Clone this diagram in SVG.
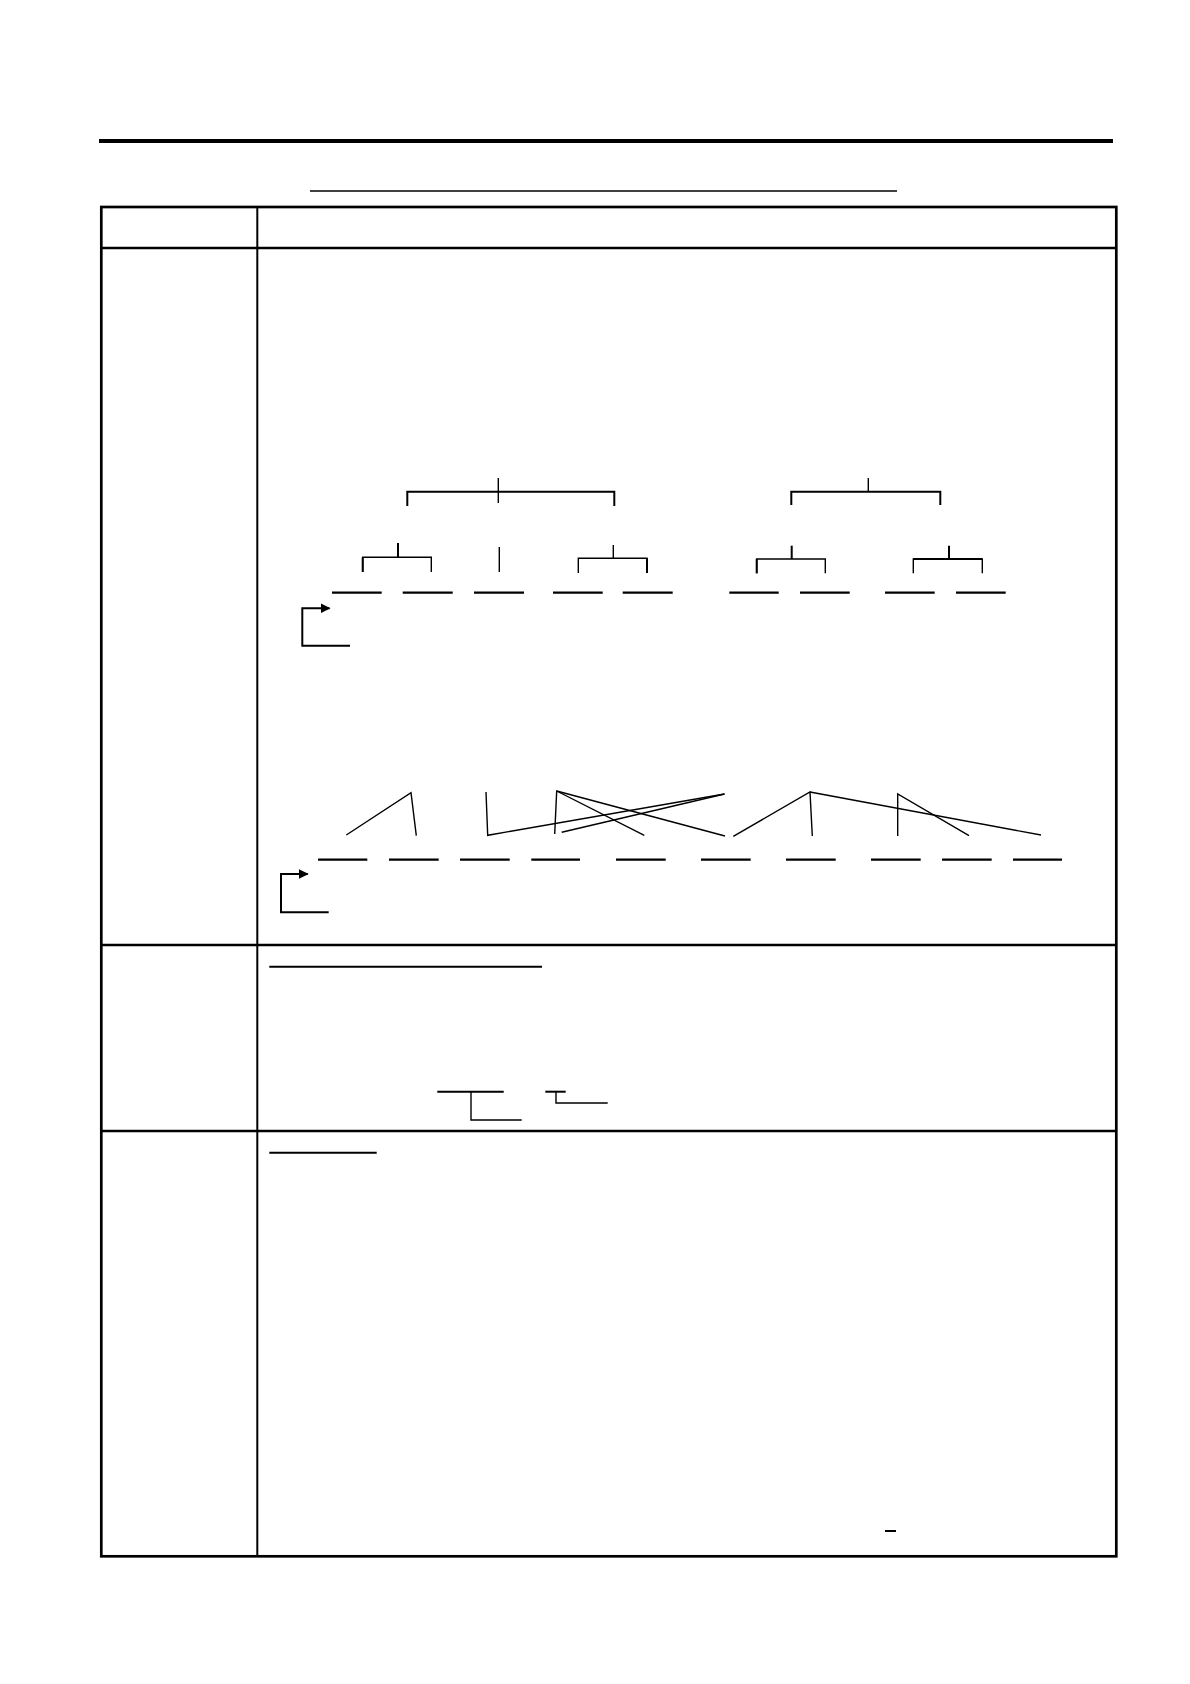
<svg xmlns="http://www.w3.org/2000/svg" width="1190" height="1684" viewBox="0 0 1190 1684">
<defs>
<style>
.thin{stroke:#000;stroke-width:1.4;fill:none}
.med{stroke:#000;stroke-width:2;fill:none}
.blank{stroke:#000;stroke-width:2.2;fill:none}
.frame{stroke:#000;stroke-width:2.7;fill:none}
</style>
<marker id="ah" markerWidth="10" markerHeight="10" refX="9" refY="5" orient="auto" markerUnits="userSpaceOnUse">
<path d="M0,0 L10,5 L0,10 Z" fill="#000"/>
</marker>
</defs>
<rect width="1190" height="1684" fill="#fff"/>
<g id="page-frame">
<rect x="99" y="139" width="1014" height="4" fill="#000"/>
<line class="thin" x1="310" y1="191" x2="897" y2="191"/>
<rect class="frame" x="101.3" y="207" width="1015" height="1349.3"/>
<line class="frame" x1="101.3" y1="248" x2="1116.3" y2="248"/>
<line class="frame" x1="101.3" y1="945" x2="1116.3" y2="945"/>
<line class="frame" x1="101.3" y1="1131" x2="1116.3" y2="1131"/>
<line class="med" x1="257.3" y1="207" x2="257.3" y2="1556.3"/>
</g>
<g id="tree-1">
<line class="thin" x1="498.3" y1="478" x2="498.3" y2="503"/>
<polyline class="med" points="407.3,506 407.3,491.7 614.3,491.7 614.3,506"/>
<line class="med" x1="398" y1="543" x2="398" y2="557.3"/>
<polyline class="thin" points="362.7,572 362.7,557.3 431.3,557.3 431.3,572"/>
<line class="med" x1="362.7" y1="557.3" x2="362.7" y2="572"/>
<line class="thin" x1="499.3" y1="547" x2="499.3" y2="572"/>
<line class="thin" x1="613.3" y1="545" x2="613.3" y2="558.3"/>
<polyline class="thin" points="578.3,573 578.3,558.3 647,558.3 647,573"/>
<line class="med" x1="647" y1="558.3" x2="647" y2="573"/>
</g>
<g id="tree-2">
<line class="thin" x1="868.3" y1="478" x2="868.3" y2="491.7"/>
<polyline class="med" points="791.3,505 791.3,491.7 940.3,491.7 940.3,505"/>
<line class="med" x1="791.7" y1="545.7" x2="791.7" y2="559"/>
<polyline class="thin" points="756.7,573.3 756.7,559 825.3,559 825.3,573.3"/>
<line class="med" x1="756.7" y1="559" x2="756.7" y2="573.3"/>
<line class="med" x1="949" y1="545.7" x2="949" y2="559"/>
<polyline class="thin" points="913.3,573.3 913.3,559 982.3,559 982.3,573.3"/>
<line class="med" x1="913.3" y1="559" x2="982.3" y2="559"/>
</g>
<g id="blanks-1">
<line class="blank" x1="332" y1="592.7" x2="381.7" y2="592.7"/>
<line class="blank" x1="402.7" y1="592.7" x2="452.7" y2="592.7"/>
<line class="blank" x1="474" y1="592.7" x2="524" y2="592.7"/>
<line class="blank" x1="553" y1="592.7" x2="602.7" y2="592.7"/>
<line class="blank" x1="622.7" y1="592.7" x2="672.7" y2="592.7"/>
<line class="blank" x1="729.3" y1="592.7" x2="778.7" y2="592.7"/>
<line class="blank" x1="800" y1="592.7" x2="849.7" y2="592.7"/>
<line class="blank" x1="885" y1="592.7" x2="934.7" y2="592.7"/>
<line class="blank" x1="956" y1="592.7" x2="1005.7" y2="592.7"/>
</g>
<g id="blanks-2">
<line class="blank" x1="318" y1="859.7" x2="367.3" y2="859.7"/>
<line class="blank" x1="389" y1="859.7" x2="438.7" y2="859.7"/>
<line class="blank" x1="460" y1="859.7" x2="509.7" y2="859.7"/>
<line class="blank" x1="531.3" y1="859.7" x2="580" y2="859.7"/>
<line class="blank" x1="616" y1="859.7" x2="665.7" y2="859.7"/>
<line class="blank" x1="701" y1="859.7" x2="750.7" y2="859.7"/>
<line class="blank" x1="786" y1="859.7" x2="835.7" y2="859.7"/>
<line class="blank" x1="871" y1="859.7" x2="920.7" y2="859.7"/>
<line class="blank" x1="942" y1="859.7" x2="991.7" y2="859.7"/>
<line class="blank" x1="1013" y1="859.7" x2="1062" y2="859.7"/>
</g>
<g id="connectors">
<polyline class="med" points="350,645.7 302.3,645.7 302.3,608.3 329.5,608.3" marker-end="url(#ah)"/>
<polyline class="med" points="328.7,912.3 281,912.3 281,874 307.7,874" marker-end="url(#ah)"/>
<polyline class="thin" points="346.3,835 411,792.7 416.3,835.7"/>
<polyline class="thin" points="486,792 487.7,835.3 724.5,794"/>
<polyline class="thin" points="554.7,834 556.7,791 644.3,835.3"/>
<line class="thin" x1="556.7" y1="791" x2="725" y2="836"/>
<line class="thin" x1="561.7" y1="832.3" x2="724.5" y2="794"/>
<polyline class="thin" points="733.3,836.3 810,792 812.3,836"/>
<line class="thin" x1="810" y1="792" x2="1041" y2="835"/>
<polyline class="thin" points="897.7,836 897.7,794 969,835.7"/>
</g>
<g id="row-2">
<line class="med" x1="269.3" y1="966.7" x2="542" y2="966.7"/>
<line class="med" x1="437.3" y1="1091.7" x2="503.7" y2="1091.7"/>
<polyline class="thin" points="471,1091.7 471,1120 521.7,1120"/>
<line class="med" x1="545.3" y1="1091.7" x2="565.7" y2="1091.7"/>
<polyline class="thin" points="556,1091.7 556,1103 607.7,1103"/>
</g>
<g id="row-3">
<line class="med" x1="269.3" y1="1152.7" x2="376.7" y2="1152.7"/>
<line class="med" x1="885" y1="1531" x2="896" y2="1531"/>
</g>
</svg>
